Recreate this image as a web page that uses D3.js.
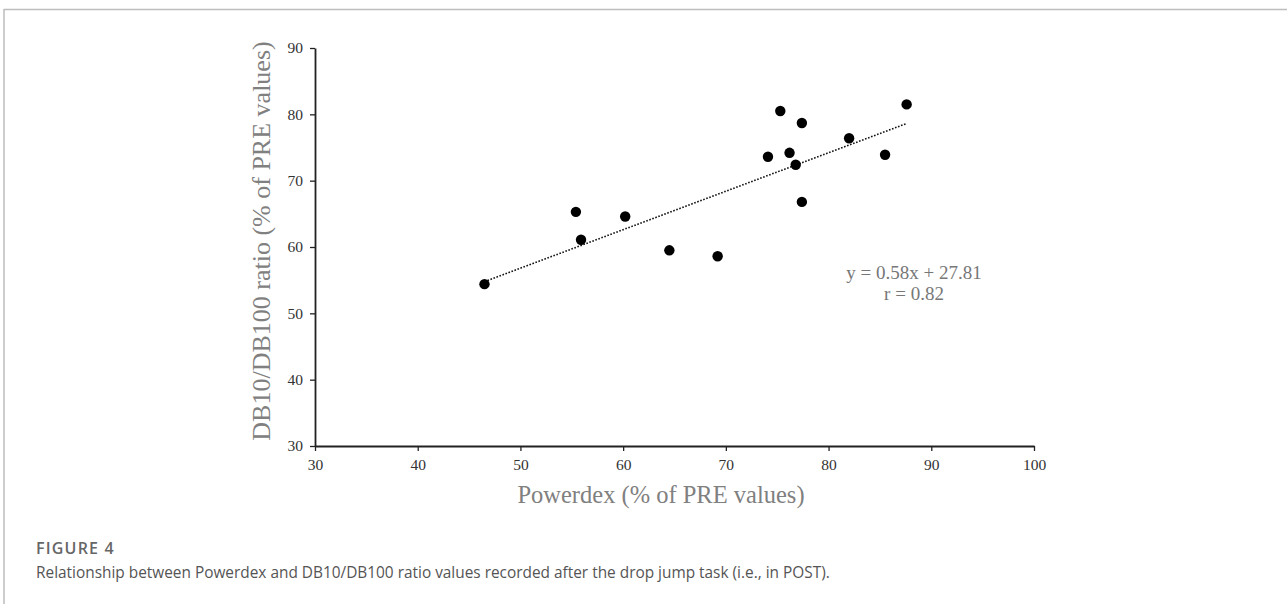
<!DOCTYPE html>
<html>
<head>
<meta charset="utf-8">
<script src="https://cdn.jsdelivr.net/npm/d3@7"></script>
<style>
  html, body { margin: 0; padding: 0; background: #fff; }
  svg { display: block; }
</style>
</head>
<body>
<svg id="chart" width="1287" height="604"></svg>
<script>
// ---- data ----
const powerdex = [46.5, 55.4, 55.9, 60.2, 64.5, 69.2, 74.1, 75.3, 76.2, 76.8, 77.4, 77.4, 82.0, 85.5, 87.6];
const ratio    = [54.4, 65.3, 61.1, 64.6, 59.5, 58.6, 73.6, 80.5, 74.2, 72.4, 78.7, 66.8, 76.4, 73.9, 81.5];
const xTicks = [30, 40, 50, 60, 70, 80, 90, 100];
const yTicks = [30, 40, 50, 60, 70, 80, 90];
const slope = 0.58;
const intercept = 27.81;
const r = 0.82;
const xTitle = "Powerdex (% of PRE values)";
const yTitle = "DB10/DB100 ratio (% of PRE values)";
const figLabel = "FIGURE 4";
const caption = "Relationship between Powerdex and DB10/DB100 ratio values recorded after the drop jump task (i.e., in POST).";

const svg = d3.select("#chart");

// frame lines
svg.append("line").attr("x1", 4).attr("x2", 1287).attr("y1", 9.5).attr("y2", 9.5)
  .attr("stroke", "#bdbdbd").attr("stroke-width", 1.5);
svg.append("line").attr("x1", 4).attr("x2", 4).attr("y1", 9).attr("y2", 604)
  .attr("stroke", "#bdbdbd").attr("stroke-width", 1.5);

const x = d3.scaleLinear().domain([30, 100]).range([315, 1034]);
const y = d3.scaleLinear().domain([30, 90]).range([446, 48]);

const serif = "'Liberation Serif', 'Times New Roman', serif";

// x axis
const gx = svg.append("g").attr("transform", `translate(0,${y(30)})`)
  .call(d3.axisBottom(x).tickValues(xTicks).tickSize(5).tickPadding(8).tickSizeOuter(0));
gx.select(".domain").attr("stroke", "#222").attr("stroke-width", 1.8);
gx.selectAll(".tick line").attr("stroke", "#222").attr("stroke-width", 1.3);
gx.selectAll(".tick text").attr("font-family", serif).attr("font-size", 15.5).attr("fill", "#333");

// y axis
const gy = svg.append("g").attr("transform", `translate(${x(30)},0)`)
  .call(d3.axisLeft(y).tickValues(yTicks).tickSize(5).tickPadding(7).tickSizeOuter(0));
gy.select(".domain").attr("stroke", "#222").attr("stroke-width", 1.8);
gy.selectAll(".tick line").attr("stroke", "#222").attr("stroke-width", 1.3);
gy.selectAll(".tick text").attr("font-family", serif).attr("font-size", 15.5).attr("fill", "#333");

// trend line
const xs = d3.extent(powerdex);
svg.append("line")
  .attr("x1", x(xs[0])).attr("y1", y(slope * xs[0] + intercept))
  .attr("x2", x(xs[1])).attr("y2", y(slope * xs[1] + intercept))
  .attr("stroke", "#111").attr("stroke-width", 1.6)
  .attr("stroke-dasharray", "1.6,1.6");

// points
svg.append("g").selectAll("circle")
  .data(powerdex.map((d, i) => [d, ratio[i]]))
  .join("circle")
  .attr("cx", d => x(d[0])).attr("cy", d => y(d[1]))
  .attr("r", 5.2).attr("fill", "#000");

// equation
svg.append("text").attr("x", 914).attr("y", 279).attr("text-anchor", "middle")
  .attr("font-family", serif).attr("font-size", 19).attr("fill", "#777")
  .text(`y = ${slope.toFixed(2)}x + ${intercept.toFixed(2)}`);
svg.append("text").attr("x", 914).attr("y", 300).attr("text-anchor", "middle")
  .attr("font-family", serif).attr("font-size", 19).attr("fill", "#777")
  .text(`r = ${r.toFixed(2)}`);

// axis titles
svg.append("text").attr("x", 661).attr("y", 503).attr("text-anchor", "middle")
  .attr("font-family", serif).attr("font-size", 24.5).attr("fill", "#808080")
  .text(xTitle);
svg.append("text").attr("transform", "translate(270,241) rotate(-90)")
  .attr("text-anchor", "middle")
  .attr("font-family", serif).attr("font-size", 26).attr("fill", "#808080")
  .text(yTitle);

// caption
svg.append("text").attr("x", 36).attr("y", 554)
  .attr("font-family", "'Open Sans', sans-serif").attr("font-size", 16).attr("font-weight", 600)
  .attr("letter-spacing", 1.2)
  .attr("fill", "#666").text(figLabel);
svg.append("text").attr("x", 36).attr("y", 578)
  .attr("font-family", "'Open Sans', sans-serif").attr("font-size", 15.4)
  .attr("fill", "#555").text(caption);
</script>
</body>
</html>
